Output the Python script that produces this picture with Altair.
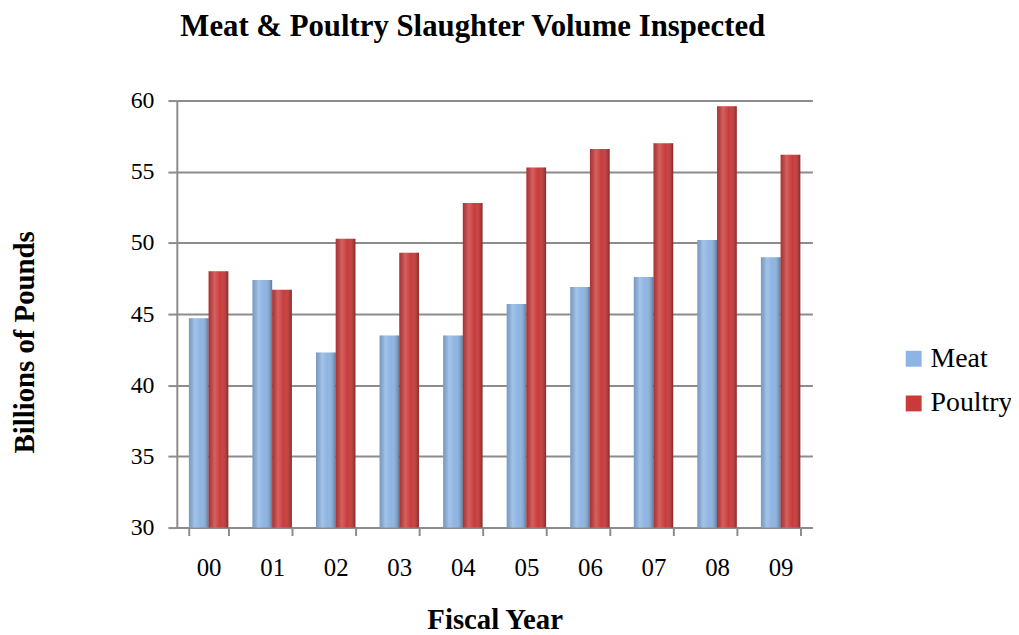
import altair as alt
import pandas as pd

years = ["00", "01", "02", "03", "04", "05", "06", "07", "08", "09"]
meat = [44.7, 47.4, 42.3, 43.5, 43.5, 45.7, 46.9, 47.6, 50.2, 49.0]
poultry = [48.0, 46.7, 50.3, 49.3, 52.8, 55.3, 56.6, 57.0, 59.6, 56.2]
series = ["Meat", "Poultry"]

rows = []
for i, y in enumerate(years):
    rows.append({"year": y, "series": "Meat", "value": meat[i]})
    rows.append({"year": y, "series": "Poultry", "value": poultry[i]})
df = pd.DataFrame(rows)

FONT = "Liberation Serif"

x_enc = alt.X("year:N", sort=years,
              scale=alt.Scale(paddingInner=0.38, paddingOuter=0.19),
              axis=alt.Axis(title="Fiscal Year", labelFontSize=25, labelFont=FONT,
                            labelColor="black", labelPadding=20, tickBand="extent",
                            tickSize=8, tickColor="#8c8c8c", tickWidth=2,
                            domainColor="#8c8c8c", domainWidth=2,
                            titleFont=FONT, titleFontSize=29, titleFontWeight="bold",
                            titleColor="black", titleY=93, titleBaseline="middle",
                            labelAngle=0, grid=False))
y_enc = alt.Y("value:Q",
              scale=alt.Scale(domain=[30, 60], zero=False, nice=False),
              axis=alt.Axis(title="Billions of Pounds", values=[30, 35, 40, 45, 50, 55, 60],
                            labelFontSize=24, labelFont=FONT, labelColor="black",
                            labelPadding=14, tickSize=9, tickColor="#8c8c8c", tickWidth=2,
                            domainColor="#8c8c8c", domainWidth=2,
                            gridColor="#8c8c8c", gridWidth=2,
                            titleFont=FONT, titleFontSize=29, titleFontWeight="bold",
                            titleColor="black", titleAngle=270, titleX=-153, titleY=243,
                            titleAlign="center", titleBaseline="middle"))

bars = alt.Chart(df).mark_bar().encode(
    x=x_enc,
    xOffset=alt.XOffset("series:N", sort=series),
    y=y_enc,
    y2=alt.datum(30),
    color=alt.Color("series:N", sort=series,
                    scale=alt.Scale(domain=series, range=["#8db4e2", "#c93a3a"]),
                    legend=alt.Legend(title=None, orient="none", legendX=728, legendY=246,
                                      labelFont=FONT, labelFontSize=28, labelColor="black",
                                      symbolType="square", symbolSize=256,
                                      symbolStrokeWidth=0, rowPadding=17, labelOffset=3)),
)

shade = alt.Chart(df).mark_bar(
    fill={"gradient": "linear", "x1": 0, "x2": 1, "y1": 0, "y2": 0,
          "stops": [{"offset": 0, "color": "rgba(0,0,0,0.15)"},
                    {"offset": 0.3, "color": "rgba(255,255,255,0.2)"},
                    {"offset": 0.6, "color": "rgba(255,255,255,0.0)"},
                    {"offset": 1, "color": "rgba(0,0,0,0.32)"}]}
).encode(
    x=alt.X("year:N", sort=years),
    xOffset=alt.XOffset("series:N", sort=series),
    y="value:Q",
    y2=alt.datum(30),
)

chart = alt.layer(bars, shade).properties(
    width=640, height=430,
    title=alt.TitleParams("Meat & Poultry Slaughter Volume Inspected", font=FONT,
                          fontSize=31, fontWeight="bold", color="black",
                          anchor="middle", dx=-22, offset=46),
    autosize=alt.AutoSizeParams(type="none"),
    padding={"left": 170, "top": 91, "right": 200, "bottom": 110},
).configure_view(stroke=None)

chart.save("out.html", embed_options={"renderer": "svg", "actions": False})
